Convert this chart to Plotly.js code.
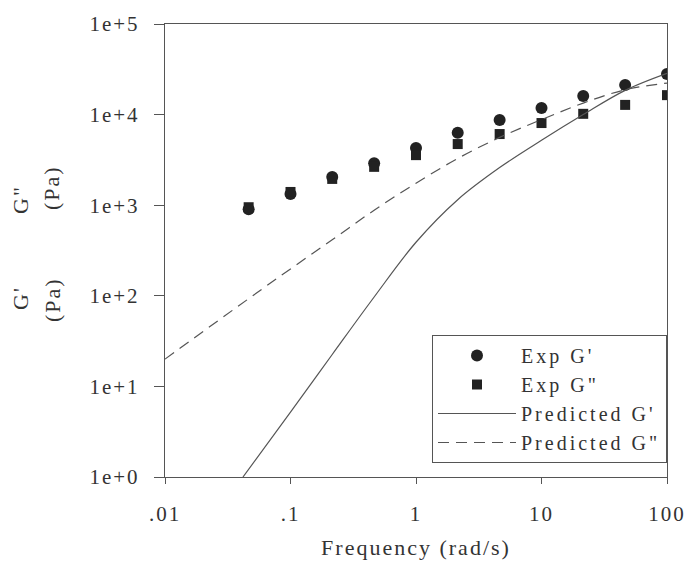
<!DOCTYPE html>
<html>
<head>
<meta charset="utf-8">
<script src="https://cdn.plot.ly/plotly-3.0.1.min.js"></script>
<style>
html,body{margin:0;padding:0;background:#fff}
#chart{width:692px;height:561px}
svg text{letter-spacing:2px}
#js-plotly-tester text, svg .legend text{letter-spacing:3px}
</style>
</head>
<body>
<div id="chart"></div>
<script>
// Experimental frequencies (rad/s)
const expFreq = [0.0464, 0.1, 0.215, 0.464, 1, 2.15, 4.64, 10, 21.5, 46.4, 100];
const expGp   = [900, 1330, 2050, 2900, 4270, 6300, 8720, 11800, 16000, 21200, 28000];
const expGpp  = [950, 1400, 1950, 2650, 3570, 4730, 6100, 8070, 10200, 12800, 16400];

// Predicted curves
const predGpFreq = [0.0418, 0.1, 0.215, 0.464, 1, 2.15, 4.64, 10, 21.5, 46.4, 100];
const predGp     = [1, 5.2, 22.5, 97, 390, 1150, 2600, 5200, 10000, 18500, 28500];
const predGppFreq = [0.01, 0.0464, 0.1, 0.215, 0.464, 1, 2.15, 4.64, 10, 21.5, 46.4, 100];
const predGpp     = [20, 93, 198, 415, 880, 1750, 3280, 5600, 8800, 13400, 18800, 22300];

const xTickVals = [0.01, 0.1, 1, 10, 100];
const xTickText = ['.01', '.1', '1', '10', '100'];
const yTickVals = [1, 10, 100, 1000, 10000, 100000];
const yTickText = ['1e+0', '1e+1', '1e+2', '1e+3', '1e+4', '1e+5'];

const serif = 'Liberation Serif, Times New Roman, serif';
const ink = '#333';
const lineCol = '#555';

const traces = [
  {x: expFreq, y: expGp, name: "Exp G'", type: 'scatter', mode: 'markers',
   marker: {symbol: 'circle', size: 12, color: '#222'}},
  {x: expFreq, y: expGpp, name: 'Exp G"', type: 'scatter', mode: 'markers',
   marker: {symbol: 'square', size: 10, color: '#222'}},
  {x: predGpFreq, y: predGp, name: "Predicted G'", type: 'scatter', mode: 'lines',
   line: {color: lineCol, width: 1.2, shape: 'spline'}},
  {x: predGppFreq, y: predGpp, name: 'Predicted G"', type: 'scatter', mode: 'lines',
   line: {color: lineCol, width: 1.2, dash: '11px,7px', shape: 'spline'}}
];

const L = 165, R = 25, T = 24, B = 84;
const W = 692, H = 561;
const pw = W - L - R, ph = H - T - B;
const px = v => (v - L) / pw;
const py = v => (H - B - v) / ph;

const layout = {
  width: W, height: H,
  margin: {l: L, r: R, t: T, b: B},
  paper_bgcolor: '#fff', plot_bgcolor: '#fff',
  font: {family: serif, size: 21, color: ink},
  showlegend: true,
  legend: {
    x: 1, xanchor: 'right', y: py(335), yanchor: 'top',
    bordercolor: lineCol, borderwidth: 1, bgcolor: '#fff',
    font: {family: serif, size: 20, color: ink},
    itemwidth: 78
  },
  xaxis: {
    type: 'log', range: [-2, 2],
    tickvals: xTickVals, ticktext: xTickText,
    ticks: 'outside', ticklen: 6, tickcolor: lineCol, tickwidth: 1,
    ticklabelstandoff: 12,
    showline: true, linecolor: lineCol, linewidth: 1.2, mirror: true,
    showgrid: false, zeroline: false,
    tickfont: {family: serif, size: 21, color: ink},
    title: {text: 'Frequency (rad/s)', font: {family: serif, size: 22, color: ink}, standoff: 14}
  },
  yaxis: {
    type: 'log', range: [0, 5],
    tickvals: yTickVals, ticktext: yTickText,
    ticks: 'outside', ticklen: 10, tickcolor: lineCol, tickwidth: 1,
    ticklabelstandoff: 10,
    showline: true, linecolor: lineCol, linewidth: 1.2, mirror: true,
    showgrid: false, zeroline: false,
    tickfont: {family: serif, size: 21, color: ink}
  },
  annotations: [
    {text: 'G"', xref: 'paper', yref: 'paper', x: px(20), y: py(200), showarrow: false,
     textangle: -90, xanchor: 'center', yanchor: 'middle', font: {family: serif, size: 22, color: ink}},
    {text: '(Pa)', xref: 'paper', yref: 'paper', x: px(52), y: py(188), showarrow: false,
     textangle: -90, xanchor: 'center', yanchor: 'middle', font: {family: serif, size: 22, color: ink}},
    {text: "G'", xref: 'paper', yref: 'paper', x: px(20), y: py(298), showarrow: false,
     textangle: -90, xanchor: 'center', yanchor: 'middle', font: {family: serif, size: 22, color: ink}},
    {text: '(Pa)', xref: 'paper', yref: 'paper', x: px(52), y: py(300), showarrow: false,
     textangle: -90, xanchor: 'center', yanchor: 'middle', font: {family: serif, size: 22, color: ink}}
  ]
};

Plotly.newPlot('chart', traces, layout, {displayModeBar: false, staticPlot: true});
</script>
</body>
</html>
